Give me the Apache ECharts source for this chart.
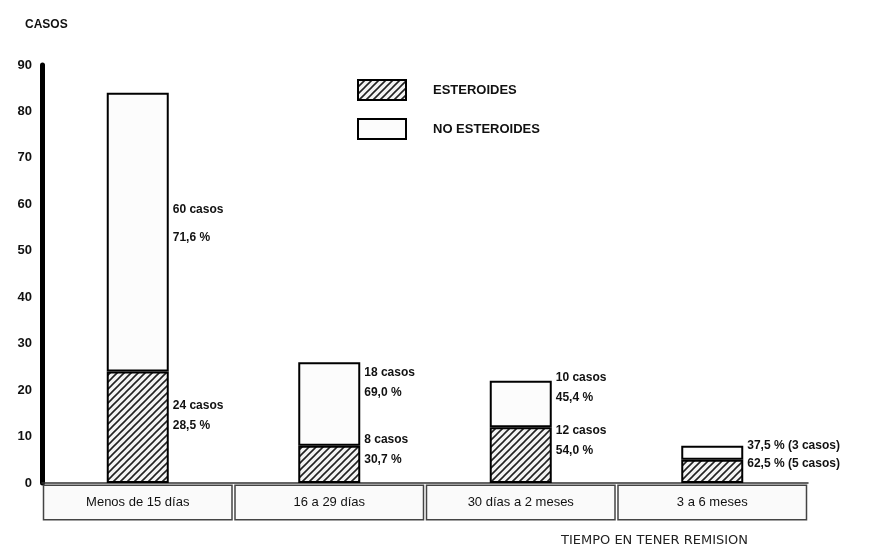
<!DOCTYPE html>
<html>
<head>
<meta charset="utf-8">
<script src="https://cdn.jsdelivr.net/npm/echarts@6/dist/echarts.min.js"></script>
<style>
  html, body { margin: 0; padding: 0; background: #fff; }
  #main { width: 876px; height: 549px; }
</style>
</head>
<body>
<div id="main"></div>
<script>
// datos
const categorias = ['Menos de 15 días', '16 a 29 días', '30 días a 2 meses', '3 a 6 meses'];
const esteroides = [24, 8, 12, 5];
const noEsteroides = [60, 18, 10, 3];
const pctEsteroides = ['28,5 %', '30,7 %', '54,0 %', '62,5 %'];
const pctNoEsteroides = ['71,6 %', '69,0 %', '45,4 %', '37,5 %'];
const yTicks = [0, 10, 20, 30, 40, 50, 60, 70, 80, 90];

// desplazamiento vertical de las etiquetas (solo estilo)
const offNo = [-9, -21, -16, -7];
const offEst = [-12, -15, -14, -8];

// trama rayada para ESTEROIDES
function hatch() {
  const c = document.createElement('canvas');
  c.width = 7; c.height = 7;
  const ctx = c.getContext('2d');
  ctx.fillStyle = '#f4f4f4';
  ctx.fillRect(0, 0, 7, 7);
  ctx.strokeStyle = '#222';
  ctx.lineWidth = 1.6;
  ctx.beginPath();
  ctx.moveTo(-1, 8); ctx.lineTo(8, -1);
  ctx.moveTo(-1, 1); ctx.lineTo(1, -1);
  ctx.moveTo(6, 8); ctx.lineTo(8, 6);
  ctx.stroke();
  return c;
}

const fuente = 'Liberation Sans, Arial, sans-serif';

function etiqueta(i, casos, pct) {
  if (i === 3) return pct + ' (' + casos + ' casos)';
  return casos + ' casos\n' + pct;
}

const chart = echarts.init(document.getElementById('main'));
chart.setOption({
  animation: false,
  backgroundColor: '#fff',
  textStyle: { fontFamily: fuente },
  grid: { left: 42, right: 68, top: 65, bottom: 66 },
  title: [
    { text: 'CASOS', left: 20, top: 14, textStyle: { fontSize: 12, fontWeight: 'bold', color: '#111', fontFamily: fuente } },
    { text: 'TIEMPO EN TENER REMISION', left: 556, top: 529, textStyle: { fontSize: 13, fontWeight: 'normal', color: '#222', fontFamily: 'DejaVu Sans' } }
  ],
  legend: {
    left: 352, top: 74, orient: 'vertical', itemWidth: 48, itemHeight: 20, itemGap: 17,
    icon: 'rect',
    textStyle: { fontSize: 13, fontWeight: 'bold', color: '#111', padding: [0, 0, 0, 22] },
    data: ['ESTEROIDES', 'NO ESTEROIDES']
  },
  xAxis: {
    type: 'category',
    data: categorias,
    axisLine: { lineStyle: { color: '#333', width: 1.5 } },
    axisTick: { show: false },
    axisLabel: {
      margin: 3, interval: 0,
      width: 187, height: 33, lineHeight: 33, align: 'center',
      borderColor: '#444', borderWidth: 1.5, backgroundColor: '#fafafa',
      fontSize: 13, color: '#111'
    }
  },
  yAxis: {
    type: 'value', min: 0, max: 90, interval: 10,
    axisLine: { show: true, lineStyle: { color: '#000', width: 5 } },
    axisTick: { show: false },
    splitLine: { show: false },
    axisLabel: {
      fontSize: 13, fontWeight: 'bold', color: '#111', margin: 10,
      formatter: v => yTicks.includes(v) ? String(v) : ''
    }
  },
  series: [
    {
      name: 'ESTEROIDES', type: 'bar', stack: 'total', barWidth: 62,
      itemStyle: { color: { image: hatch(), repeat: 'repeat' }, borderColor: '#000', borderWidth: 2 },
      data: esteroides.map((v, i) => ({
        value: v,
        label: {
          show: true, position: 'right', distance: 4, offset: [0, offEst[i]],
          formatter: etiqueta(i, v, pctEsteroides[i]),
          fontSize: 12, fontWeight: 'bold', color: '#111', lineHeight: 20
        }
      }))
    },
    {
      name: 'NO ESTEROIDES', type: 'bar', stack: 'total', barWidth: 62,
      itemStyle: { color: '#fcfcfc', borderColor: '#000', borderWidth: 2 },
      data: noEsteroides.map((v, i) => ({
        value: v,
        label: {
          show: true, position: 'right', distance: 4, offset: [0, offNo[i]],
          formatter: etiqueta(i, v, pctNoEsteroides[i]),
          fontSize: 12, fontWeight: 'bold', color: '#111', lineHeight: i === 0 ? 28 : 20
        }
      }))
    }
  ]
});
</script>
</body>
</html>
